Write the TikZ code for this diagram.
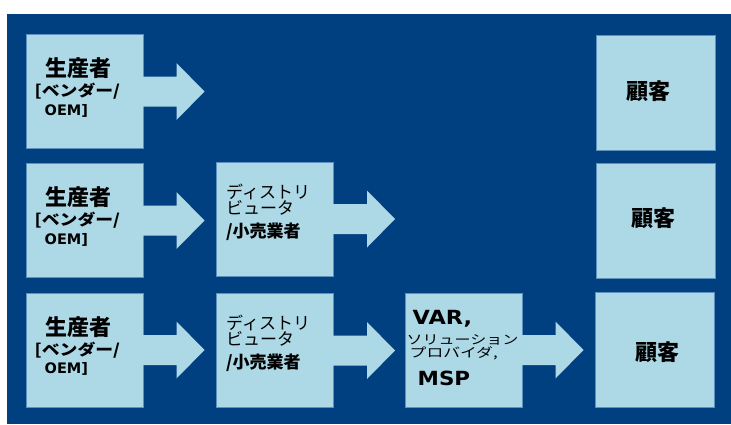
\documentclass[tikz,border=0pt]{standalone}
\usepackage{fontspec}
\usepackage{graphicx}
\newfontfamily\jp{Noto Sans CJK JP}
\newfontfamily\lat{DejaVu Sans}
\usetikzlibrary{calc}
\definecolor{bgblue}{RGB}{0,64,128}
\definecolor{boxfill}{RGB}{173,216,230}
\definecolor{boxline}{RGB}{95,145,190}
\newcommand{\myarrow}[1]{%
  \fill[boxfill] ($(#1.east)+(-1,-15)$) -- ++(34,0) -- ++(0,-13.5) -- ++(28,28.5)
     -- ++(-28,28.5) -- ++(0,-13.5) -- ++(-34,0) -- cycle;}
\begin{document}
\begin{tikzpicture}[x=1pt,y=-1pt,
  box/.style={draw=boxline, line width=1pt, fill=boxfill, minimum width=117pt,
              minimum height=114pt, inner sep=0pt},
  cbox/.style={box, minimum width=119pt, minimum height=115pt},
  txt/.style={inner sep=0pt, anchor=west, text=black},
  ctxt/.style={inner sep=0pt, anchor=center, text=black},
  bigjp/.style={font=\jp\bfseries\fontsize{22}{22}\selectfont},
  midjp/.style={font=\jp\fontsize{17}{17}\selectfont},
  midjpb/.style={font=\jp\bfseries\fontsize{17}{17}\selectfont},
  vjp/.style={font=\jp\fontsize{16}{16}\selectfont},
  smjp/.style={font=\jp\bfseries\fontsize{17}{17}\selectfont},
  latb/.style={font=\lat\bfseries\fontsize{14.5}{14.5}\selectfont},
  biglat/.style={font=\lat\bfseries\fontsize{19.5}{19.5}\selectfont}]
\useasboundingbox (0,0) rectangle (731,424);
\fill[bgblue] (7,14) rectangle (731,424);

% boxes
\node[box] (p1) at (84.5,91.5) {};
\node[box] (p2) at (84.5,220.5) {};
\node[box] (p3) at (84.5,350) {};
\node[box] (d2) at (275,219) {};
\node[box] (d3) at (275,350.5) {};
\node[box] (v3) at (463.5,350) {};
\node[cbox] (c1) at (655.5,92.5) {};
\node[cbox] (c2) at (655.5,220.5) {};
\node[cbox] (c3) at (655,350) {};

% arrows
\myarrow{p1}
\myarrow{p2}
\myarrow{p3}
\myarrow{d2}
\myarrow{d3}
\myarrow{v3}

% producer texts
\foreach \p in {p1,p2,p3}{
  \node[ctxt, bigjp] (\p a) at ($(\p.center)+(-6,-23)$) {生産者};
  \node[txt, smjp] (\p b) at ($(\p.west)+(9,0)$) {\scalebox{1.05}[0.9]{[ベンダー/}};
  \node[txt, latb] (\p c) at ($(\p.west)+(19,19)$) {OEM]};
}

% distributor texts
\foreach \d in {d2,d3}{
  \node[txt, midjp] (\d a) at ($(\d.west)+(10,-27.5)$) {ディストリ};
  \node[txt, midjp] (\d b) at ($(\d.west)+(10,-11.5)$) {ビュータ};
  \node[txt, midjpb] (\d c) at ($(\d.west)+(10,12.5)$) {/小売業者};
}

% VAR texts
\node[txt, biglat] (v3a) at ($(v3.west)+(8,-31)$) {\scalebox{1.15}[1]{VAR,}};
\node[txt, vjp] (v3b) at ($(v3.west)+(2,-10)$) {\scalebox{1}[0.8]{ソリューション}};
\node[txt, vjp] (v3c) at ($(v3.west)+(5,3)$) {\scalebox{1.05}[0.8]{プロバイダ,}};
\node[txt, biglat] (v3d) at ($(v3.west)+(13,28)$) {\scalebox{1.1}[1]{MSP}};

% customer texts
\node[ctxt, bigjp] (c1t) at ($(c1.center)+(-7,-1)$) {顧客};
\node[ctxt, bigjp] (c2t) at ($(c2.center)+(-2,-2)$) {顧客};
\node[ctxt, bigjp] (c3t) at ($(c3.center)+(2,2)$) {顧客};
\end{tikzpicture}
\end{document}
